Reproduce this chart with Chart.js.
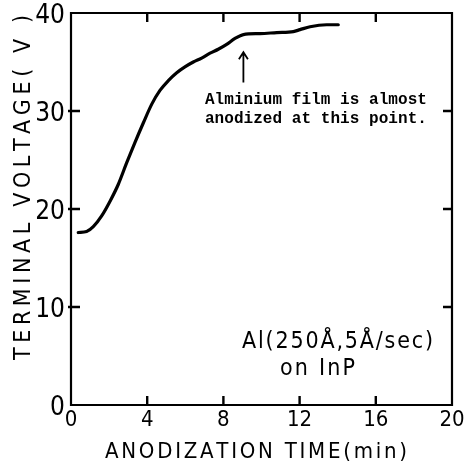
<!DOCTYPE html>
<html>
<head>
<meta charset="utf-8">
<script src="https://cdn.jsdelivr.net/npm/chart.js@4.4.1/dist/chart.umd.min.js"></script>
<style>
html,body{margin:0;padding:0;background:#fff;}
#wrap{width:466px;height:463px;}
</style>
</head>
<body>
<div id="wrap"><canvas id="c" width="466" height="463"></canvas></div>
<script>
// ---- data ----
const timeMin = [0.38, 0.82, 1.17, 1.61, 2.05, 2.48, 2.92, 3.36, 3.80, 4.24, 4.67, 5.11, 5.55, 5.98, 6.42, 6.86, 7.30, 7.73, 8.17, 8.61, 9.05, 9.92, 10.8, 11.67, 12.02, 12.55, 13.42, 14.03];
const voltage = [17.6, 17.7, 18.2, 19.3, 20.8, 22.5, 24.7, 26.8, 28.8, 30.7, 32.1, 33.1, 33.9, 34.5, 35.0, 35.4, 35.9, 36.3, 36.8, 37.4, 37.8, 37.9, 38.0, 38.1, 38.3, 38.6, 38.8, 38.8];
const xTickValues = [0, 4, 8, 12, 16, 20];
const yTickValues = [0, 10, 20, 30, 40];
const xMinorMarks = [4, 8, 12, 16];
const yMinorMarks = [10, 20, 30];
const xTitle = "ANODIZATION TIME(min)";
const yTitle = "TERMINAL VOLTAGE( V )";
const noteLines = ["Alminium film is almost", "anodized at this point."];
const legendLines = ["Al(250Å,5Å/sec)", "on InP"];
const arrowT = 9.05, arrowFromV = 32.9, arrowToV = 36.0;
const noteT = 7.03, noteV = [30.7, 28.8];

const SANS = '"DejaVu Sans Condensed","DejaVu Sans",sans-serif';
const MONO = '"Liberation Mono","DejaVu Sans Mono",monospace';

function fitText(ctx, text, x, y, width) {
  const ws = [...text].map(ch => ctx.measureText(ch).width);
  const w0 = ws.reduce((a, b) => a + b, 0);
  const n = ws.length;
  const s = n > 1 ? (width - w0) / (n - 1) : 0;
  let cx = x;
  [...text].forEach((ch, i) => { ctx.fillText(ch, cx, y); cx += ws[i] + s; });
}

const framePlugin = {
  id: 'frame',
  afterDatasetsDraw(chart) {
    const ctx = chart.ctx, a = chart.chartArea;
    const xs = chart.scales.x, ys = chart.scales.y;
    ctx.save();
    ctx.strokeStyle = '#000';
    ctx.lineWidth = 2.2;
    ctx.beginPath();
    ctx.rect(a.left, a.top, a.right - a.left, a.bottom - a.top);
    ctx.stroke();
    ctx.lineWidth = 2.4;
    ctx.beginPath();
    xMinorMarks.forEach(v => {
      const px = xs.getPixelForValue(v);
      ctx.moveTo(px, a.bottom); ctx.lineTo(px, a.bottom - 9);
      ctx.moveTo(px, a.top); ctx.lineTo(px, a.top + 9);
    });
    yMinorMarks.forEach(v => {
      const py = ys.getPixelForValue(v);
      ctx.moveTo(a.left - 3, py); ctx.lineTo(a.left + 9, py);
      ctx.moveTo(a.right, py); ctx.lineTo(a.right - 9, py);
    });
    ctx.stroke();

    // arrow
    const ax = xs.getPixelForValue(arrowT);
    const ay0 = ys.getPixelForValue(arrowFromV), ay1 = ys.getPixelForValue(arrowToV);
    ctx.lineWidth = 1.8;
    ctx.beginPath();
    ctx.moveTo(ax, ay0); ctx.lineTo(ax, ay1);
    ctx.moveTo(ax - 4.5, ay1 + 7); ctx.lineTo(ax, ay1); ctx.lineTo(ax + 4.5, ay1 + 7);
    ctx.stroke();

    // note text
    ctx.fillStyle = '#000';
    ctx.textAlign = 'left';
    ctx.textBaseline = 'alphabetic';
    ctx.font = 'bold 16px ' + MONO;
    const nx = xs.getPixelForValue(noteT);
    noteLines.forEach((t, i) => fitText(ctx, t, nx, ys.getPixelForValue(noteV[i]), 222));

    // legend text
    ctx.font = '23px ' + SANS;
    fitText(ctx, legendLines[0], 242, 348, 191);
    fitText(ctx, legendLines[1], 280, 375, 75);

    // axis titles
    ctx.font = '22px ' + SANS;
    ctx.textBaseline = 'middle';
    fitText(ctx, xTitle, 105, 452, 302);
    ctx.translate(24, 188);
    ctx.rotate(-Math.PI / 2);
    ctx.font = '23px ' + SANS;
    fitText(ctx, yTitle, -172, 0, 345);
    ctx.restore();
  }
};

new Chart(document.getElementById('c'), {
  type: 'line',
  data: {
    datasets: [{
      data: timeMin.map((t, i) => ({ x: t, y: voltage[i] })),
      borderColor: '#000',
      borderWidth: 3.2,
      pointRadius: 0,
      fill: false,
      cubicInterpolationMode: 'monotone',
      borderCapStyle: 'round',
      borderJoinStyle: 'round'
    }]
  },
  options: {
    responsive: false,
    animation: false,
    events: [],
    layout: { padding: { top: 13, right: 14, left: 0, bottom: 0 } },
    plugins: { legend: { display: false }, tooltip: { enabled: false }, title: { display: false } },
    scales: {
      x: {
        type: 'linear', min: 0, max: 20,
        afterBuildTicks: s => { s.ticks = xTickValues.map(v => ({ value: v })); },
        afterFit: s => { s.height = 58; s.paddingLeft = 0; s.paddingRight = 0; },
        grid: { display: false, drawTicks: false },
        border: { display: false },
        ticks: { color: '#000', font: { family: SANS, size: 22 }, padding: 2, maxRotation: 0, autoSkip: false }
      },
      y: {
        type: 'linear', min: 0, max: 40,
        afterBuildTicks: s => { s.ticks = yTickValues.map(v => ({ value: v })); },
        afterFit: s => { s.width = 71; s.paddingTop = 0; s.paddingBottom = 0; },
        grid: { display: false, drawTicks: false },
        border: { display: false },
        ticks: { color: '#000', font: { family: SANS, size: 26 }, padding: 6, labelOffset: 3, autoSkip: false }
      }
    }
  },
  plugins: [framePlugin]
});
</script>
</body>
</html>
